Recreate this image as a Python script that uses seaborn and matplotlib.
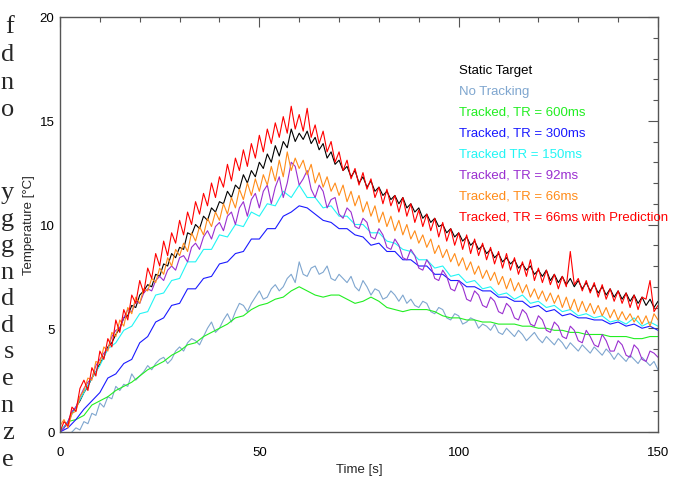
import numpy as np
import pandas as pd
import matplotlib
matplotlib.use('Agg')
import matplotlib.pyplot as plt
import seaborn as sns
from matplotlib.ticker import MultipleLocator

# sample times: noisy curves every 1 s, smooth curves every 2 s
time_1s = np.arange(0, 151, 1)
time_2s = np.arange(0, 151, 2)

static_target = [0.0, 0.2, 0.5, 0.9, 1.2, 1.5, 1.9, 2.2, 2.6, 2.9, 3.3,
                 3.6, 4.1, 4.3, 4.7, 5.0, 5.5, 5.6, 6.1, 6.0, 6.6,
                 6.8, 7.1, 7.0, 7.6, 7.5, 8.1, 8.0, 8.6, 8.4, 8.9,
                 8.8, 9.6, 9.5, 10.0, 9.8, 10.4, 10.2, 10.8, 10.6, 11.1,
                 11.0, 11.6, 11.3, 11.9, 11.7, 12.4, 12.0, 12.6, 12.3, 13.0,
                 12.7, 13.4, 13.0, 13.8, 13.3, 14.0, 13.7, 14.6, 14.0, 14.4,
                 14.1, 14.5, 13.9, 14.2, 13.6, 13.9, 13.2, 13.5, 12.9, 13.1,
                 12.6, 12.8, 12.3, 12.6, 12.0, 12.3, 11.8, 12.1, 11.6, 11.8,
                 11.4, 11.6, 11.2, 11.4, 11.0, 11.3, 10.8, 11.0, 10.6, 10.8,
                 10.3, 10.5, 10.1, 10.3, 9.9, 10.0, 9.6, 9.8, 9.4, 9.6,
                 9.2, 9.4, 9.0, 9.2, 8.8, 9.0, 8.6, 8.8, 8.4, 8.6,
                 8.2, 8.4, 8.1, 8.3, 7.9, 8.1, 7.8, 8.0, 7.6, 7.8,
                 7.5, 7.8, 7.3, 7.6, 7.2, 7.5, 7.1, 7.4, 7.0, 7.3,
                 6.9, 7.2, 6.8, 7.1, 6.7, 7.0, 6.6, 6.9, 6.5, 6.8,
                 6.4, 6.7, 6.3, 6.6, 6.2, 6.5, 6.1, 6.4, 6.0, 6.3]

no_tracking = [-0.1, -0.2, -0.1, 0.0, 0.2, 0.1, 0.5, 0.4, 0.9, 0.8, 1.4,
               1.2, 1.7, 1.6, 2.2, 2.0, 2.3, 2.2, 2.8, 2.5, 2.7,
               2.9, 3.2, 3.0, 3.3, 3.5, 3.6, 3.3, 3.5, 3.9, 4.1,
               3.9, 4.3, 4.5, 4.4, 4.2, 4.6, 5.0, 5.3, 4.8, 5.0,
               5.4, 5.7, 5.3, 5.8, 6.2, 6.1, 5.8, 6.2, 6.5, 6.8,
               6.4, 6.5, 6.9, 7.1, 6.8, 7.0, 7.4, 7.6, 7.2, 8.2,
               7.6, 7.5, 7.9, 8.0, 7.6, 7.7, 8.0, 7.4, 7.3, 7.6,
               7.4, 7.2, 7.5, 7.0, 6.8, 7.3, 7.0, 6.6, 6.9, 6.8,
               6.4, 6.5, 6.8, 6.6, 6.3, 6.6, 6.2, 6.4, 6.1, 6.0,
               6.3, 6.2, 5.8, 5.7, 6.0, 5.9, 5.5, 5.4, 5.7, 5.6,
               5.2, 5.3, 5.5, 5.4, 5.0, 5.2, 5.1, 4.9, 5.2, 4.8,
               4.7, 5.0, 4.8, 4.6, 4.9, 4.7, 4.4, 4.6, 4.8, 4.5,
               4.3, 4.6, 4.4, 4.2, 4.5, 4.3, 4.0, 4.3, 4.1, 3.9,
               4.2, 4.0, 3.8, 4.1, 3.9, 3.7, 4.0, 3.8, 3.5, 3.8,
               3.6, 3.4, 3.7, 3.5, 3.3, 3.6, 3.4, 3.2, 3.4, 3.0]

tr_600 = [0.0, 0.5, 0.6, 0.8, 1.3, 1.5, 1.7, 2.0, 2.2, 2.4, 2.7, 3.0, 3.2, 3.4, 3.7, 3.9,
          4.2, 4.3, 4.6, 4.8, 5.0, 5.2, 5.5, 5.6, 5.9, 6.1, 6.2, 6.4, 6.5, 6.8,
          7.0, 6.8, 6.6, 6.5, 6.6, 6.6, 6.4, 6.2, 6.3, 6.5, 6.3, 6.0, 5.9, 5.8,
          5.9, 5.9, 5.9, 5.8, 5.6, 5.5, 5.5, 5.4, 5.4, 5.3, 5.3, 5.2, 5.2, 5.2, 5.1, 5.1,
          5.0, 5.0, 4.9, 4.9, 4.8, 4.8, 4.7, 4.7, 4.7, 4.6, 4.6, 4.6, 4.5, 4.5, 4.6, 4.6]

tr_300 = [0.0, 0.2, 0.6, 1.1, 1.5, 1.9, 2.6, 2.8, 3.3, 3.5, 4.3, 4.6, 5.3, 5.5, 6.1, 6.2,
          6.9, 6.9, 7.4, 7.5, 8.1, 8.2, 8.6, 8.7, 9.3, 9.3, 9.8, 9.8, 10.4, 10.6,
          10.9, 10.8, 10.5, 10.2, 10.1, 9.8, 9.8, 9.5, 9.4, 9.0, 9.1, 8.7, 8.7, 8.3,
          8.3, 8.0, 8.0, 7.6, 7.6, 7.3, 7.3, 7.0, 7.0, 6.8, 6.8, 6.5, 6.5, 6.3, 6.3, 6.0,
          6.1, 5.8, 5.9, 5.6, 5.7, 5.5, 5.5, 5.4, 5.4, 5.2, 5.3, 5.1, 5.2, 5.0, 5.1, 4.9]

tr_150 = [0.0, 0.5, 1.2, 1.9, 2.6, 3.2, 4.0, 4.3, 4.9, 5.1, 5.7, 5.8, 6.6, 6.7, 7.3, 7.4,
          8.2, 8.2, 8.8, 8.8, 9.5, 9.4, 10.0, 9.9, 10.6, 10.4, 11.0, 10.9, 11.6, 11.3,
          11.9, 11.3, 11.3, 10.8, 10.9, 10.4, 10.4, 10.0, 10.0, 9.6, 9.6, 9.2, 9.1, 8.8,
          8.7, 8.3, 8.3, 7.9, 8.0, 7.5, 7.6, 7.2, 7.3, 6.9, 7.0, 6.6, 6.7, 6.4, 6.6, 6.2,
          6.3, 6.0, 6.1, 5.8, 5.9, 5.6, 5.7, 5.5, 5.6, 5.3, 5.4, 5.2, 5.5, 5.1, 5.3, 5.1]

tr_92 = [0.0, 0.2, 0.5, 1.0, 1.2, 1.7, 2.1, 2.4, 2.6, 3.2, 3.5,
         3.8, 4.0, 4.6, 4.9, 5.0, 5.5, 5.9, 5.8, 6.3, 6.2,
         6.7, 6.9, 6.8, 7.3, 7.5, 7.3, 7.8, 8.0, 7.8, 8.4,
         8.5, 8.2, 8.9, 9.1, 8.8, 9.4, 9.7, 9.3, 9.9, 10.1,
         9.7, 10.4, 10.6, 10.0, 10.8, 11.1, 10.4, 11.2, 11.5, 10.8,
         11.6, 11.9, 11.0, 11.8, 12.3, 11.3, 12.0, 13.0, 12.8, 11.9,
         12.2, 12.6, 11.7, 11.3, 11.9, 11.6, 10.8, 11.2, 11.3, 10.5,
         10.3, 10.8, 10.6, 9.9, 9.8, 10.3, 10.1, 9.4, 9.3, 9.8,
         9.5, 8.9, 8.8, 9.3, 9.0, 8.4, 8.3, 8.8, 8.5, 7.9,
         7.8, 8.3, 8.0, 7.4, 7.3, 7.8, 7.5, 6.9, 6.8, 7.3,
         7.0, 6.4, 6.3, 6.8, 6.6, 6.1, 6.0, 6.5, 6.3, 5.8,
         5.7, 6.2, 6.0, 5.5, 5.4, 5.9, 5.7, 5.2, 5.1, 5.6,
         5.4, 4.9, 4.8, 5.3, 5.1, 4.6, 4.5, 5.1, 4.9, 4.4,
         4.3, 4.9, 4.6, 4.2, 4.1, 4.7, 4.4, 3.9, 3.9, 4.4,
         4.2, 3.7, 3.6, 4.2, 4.0, 3.5, 3.4, 3.9, 3.8, 3.6]

tr_66 = [0.3, 0.6, 0.2, 0.9, 1.0, 1.7, 2.0, 2.6, 2.5, 3.4, 3.3,
         4.1, 3.9, 4.8, 4.6, 5.4, 5.1, 6.0, 5.7, 6.5, 6.2,
         6.9, 6.8, 7.4, 7.2, 7.9, 7.6, 8.4, 8.0, 8.8, 8.5,
         9.1, 8.7, 9.6, 9.2, 9.9, 9.5, 10.3, 9.9, 10.6, 10.2,
         11.0, 10.5, 11.3, 10.8, 11.7, 11.2, 12.0, 11.4, 12.2, 11.6,
         12.4, 11.9, 12.8, 12.1, 13.1, 12.3, 13.5, 12.6, 13.2, 12.7,
         13.1, 12.4, 12.9, 12.0, 12.5, 11.8, 12.3, 11.6, 12.0, 11.4,
         11.9, 11.1, 11.6, 10.9, 11.4, 10.6, 11.1, 10.4, 10.9, 10.1,
         10.6, 9.9, 10.4, 9.7, 10.2, 9.5, 10.0, 9.3, 9.7, 9.1,
         9.5, 8.9, 9.3, 8.6, 9.0, 8.4, 8.8, 8.2, 8.6, 8.0,
         8.4, 7.8, 8.2, 7.6, 8.0, 7.4, 7.8, 7.3, 7.7, 7.1,
         7.5, 6.9, 7.4, 6.8, 7.2, 6.7, 7.1, 6.5, 6.9, 6.4,
         6.8, 6.3, 6.7, 6.2, 6.6, 6.0, 6.5, 5.9, 6.4, 5.8,
         6.3, 5.8, 6.2, 5.7, 6.1, 5.6, 6.0, 5.5, 5.9, 5.4,
         5.8, 5.4, 5.7, 5.3, 5.6, 5.2, 5.6, 5.1, 5.7, 5.4]

tr_66_pred = [0.0, 0.5, 0.3, 1.2, 1.0, 2.1, 2.5, 2.0, 3.1, 2.7, 3.9,
              3.5, 4.5, 4.1, 5.4, 4.8, 5.9, 5.4, 6.6, 6.2, 7.3,
              6.7, 7.9, 7.4, 8.6, 8.0, 9.2, 8.5, 9.6, 9.1, 10.2,
              9.5, 10.6, 10.0, 11.1, 10.5, 11.5, 10.9, 12.0, 11.3, 12.3,
              11.8, 12.9, 12.1, 13.2, 12.6, 13.6, 12.8, 13.9, 13.2, 14.3,
              13.5, 14.6, 13.9, 14.9, 14.2, 15.2, 14.4, 15.7, 14.6, 15.3,
              14.5, 15.6, 14.2, 14.8, 13.9, 14.5, 13.5, 14.0, 13.0, 13.5,
              12.6, 13.1, 12.2, 12.7, 11.9, 12.5, 11.7, 12.2, 11.3, 11.8,
              11.0, 11.7, 10.9, 11.4, 10.6, 11.3, 10.4, 11.0, 10.1, 10.7,
              9.9, 10.5, 9.7, 10.3, 9.4, 10.1, 9.2, 9.8, 9.0, 9.6,
              8.8, 9.5, 8.6, 9.3, 8.5, 9.1, 8.3, 8.9, 8.1, 8.7,
              7.9, 8.6, 7.8, 8.4, 7.6, 8.2, 7.5, 8.3, 7.3, 7.9,
              7.2, 7.8, 7.1, 7.6, 6.9, 7.5, 7.0, 8.7, 7.1, 7.4,
              6.8, 7.3, 6.7, 7.2, 6.5, 7.1, 6.4, 6.9, 6.3, 6.8,
              6.2, 6.7, 6.0, 6.6, 5.9, 6.5, 6.4, 7.3, 5.8, 6.1]

labels = ['Static Target', 'No Tracking', 'Tracked, TR = 600ms', 'Tracked, TR = 300ms',
          'Tracked TR = 150ms', 'Tracked, TR = 92ms', 'Tracked, TR = 66ms',
          'Tracked, TR = 66ms with Prediction']
series = [static_target, no_tracking, tr_600, tr_300, tr_150, tr_92, tr_66, tr_66_pred]
times = [time_1s, time_1s, time_2s, time_2s, time_2s, time_1s, time_1s, time_1s]
colors = ['#000000', '#7fa6cf', '#22ee22', '#1a1aff', '#22f5f5', '#9a2fd0', '#ff8c1a', '#ff0000']

# cropped letters of the page text at the left edge
side_letters = ['f', 'd', 'n', 'o', 'y', 'g', 'g', 'n', 'd', 'd', 's', 'e', 'n', 'z', 'e']
side_baselines = [33, 61, 89, 116, 199, 226, 252, 279, 305, 332, 358, 385, 412, 439, 466]

sns.set_style('white')
plt.rcParams['font.family'] = ['Liberation Sans', 'DejaVu Sans']

fig = plt.figure(figsize=(6.79, 4.81), dpi=100)
ax = fig.add_axes([60 / 679, 1 - 433 / 481, 598 / 679, 415 / 481])

for lab, t, vals, col in zip(labels, times, series, colors):
    df = pd.DataFrame({'time': t, 'temp': vals})
    sns.lineplot(data=df, x='time', y='temp', color=col, linewidth=0.8, ax=ax, legend=False)

ax.set_xlim(0, 150)
ax.set_ylim(0, 20)
ax.xaxis.set_major_locator(MultipleLocator(50))
ax.xaxis.set_minor_locator(MultipleLocator(10))
ax.yaxis.set_major_locator(MultipleLocator(5))
ax.yaxis.set_minor_locator(MultipleLocator(1))
ax.tick_params(which='both', direction='in', top=True, right=True, color='#555555',
               labelsize=9.5, labelcolor='black')
ax.tick_params(which='major', length=7, width=0.8)
ax.tick_params(which='minor', length=3.5, width=0.8)
ax.tick_params(axis='x', pad=10)
ax.tick_params(axis='y', pad=4)
for sp in ax.spines.values():
    sp.set_color('#555555')
    sp.set_linewidth(1.0)

ax.set_xlabel('Time [s]', fontsize=9.5, labelpad=4)
ax.set_ylabel('Temperature [°C]', fontsize=9.5, labelpad=3)

# text legend
for i, (lab, col) in enumerate(zip(labels, colors)):
    ax.text(459 / 679, 1 - (71 + 21 * i) / 481, lab, color=col, fontsize=9.5,
            transform=fig.transFigure, va='center', ha='left')

for ch, yb in zip(side_letters, side_baselines):
    fig.text(14 / 679, 1 - yb / 481, ch, family=['Liberation Serif', 'DejaVu Serif'],
             fontsize=19, ha='right', va='baseline')

fig.savefig('out.png', dpi=100)
